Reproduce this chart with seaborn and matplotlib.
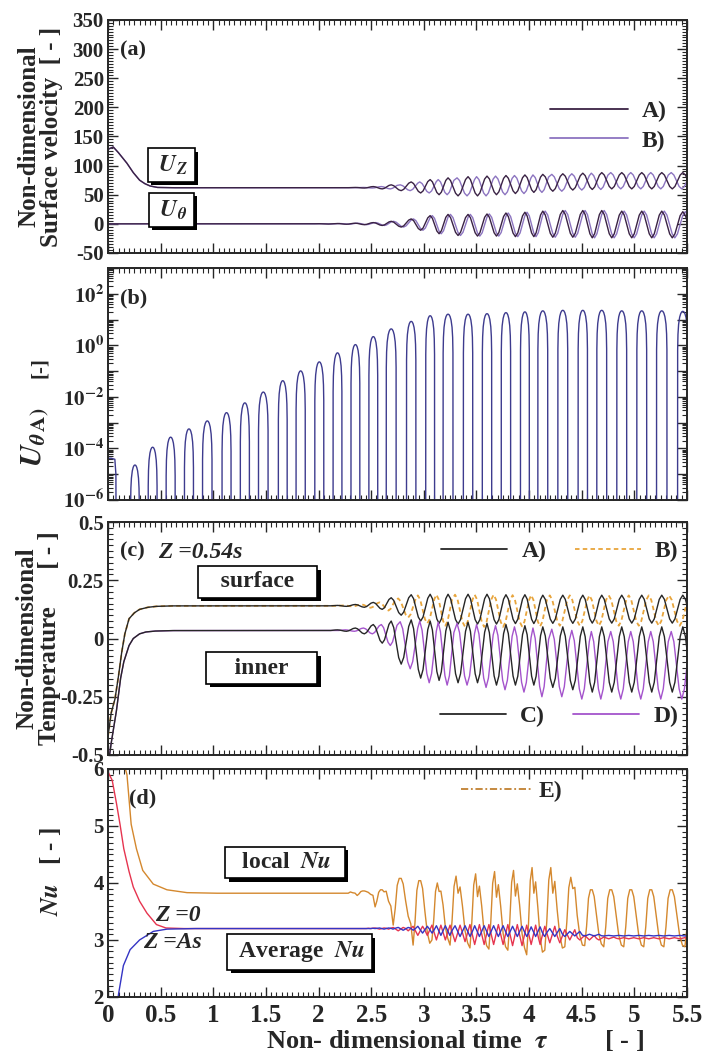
import numpy as np
import seaborn as sns
import matplotlib
matplotlib.use("Agg")
import matplotlib.pyplot as plt
import matplotlib.ticker as mticker
import matplotlib.patheffects as pe
from matplotlib.lines import Line2D

# ---------------- values ----------------
# time of each positive peak of U_theta A) (one per oscillation cycle, panel b)
cycle_tau = [0.256, 0.424, 0.595, 0.769, 0.943, 1.126, 1.300, 1.475, 1.660, 1.830,
             2.007, 2.180, 2.350, 2.520, 2.690, 2.880, 3.060, 3.230, 3.420, 3.600,
             3.780, 3.960, 4.130, 4.320, 4.510, 4.690, 4.880, 5.070, 5.260, 5.460]

# (b) log10 of each lobe top of U_theta A)
uth_peak_log = [-4.64, -3.95, -3.56, -3.24, -2.93, -2.61, -2.23, -1.81, -1.37, -0.99,
                -0.64, -0.29, 0.03, 0.34, 0.64, 0.93, 1.15, 1.21, 1.21, 1.23,
                1.27, 1.30, 1.34, 1.36, 1.36, 1.36, 1.34, 1.34, 1.34, 1.32]
uth_head_tau = [0.0, 0.03, 0.065, 0.075, 0.08]
uth_head_log = [-4.38, -4.38, -4.42, -5.0, -12.0]
# shape of one lobe on the log axis: offset from top (cycles), drop (decades)
lobe_dph = [-0.25, -0.245, -0.23, -0.2, -0.15, -0.1, -0.05, 0.0,
            0.05, 0.1, 0.15, 0.2, 0.23, 0.245, 0.25]
lobe_drop = [-12, -1.5, -0.9, -0.51, -0.23, -0.09, -0.02, 0.0,
             -0.02, -0.09, -0.23, -0.51, -0.9, -1.5, -12]

# one oscillation (phase from the top, 1 = top, 0 = bottom)
wave_ph = [0.0, 0.125, 0.25, 0.375, 0.5, 0.625, 0.75, 0.875]
wave_u = [1.0, 0.85, 0.5, 0.15, 0.0, 0.15, 0.5, 0.85]
# average Nu ripples twice per cycle
ripple_u = [1.0, 0.5, 0.0, 0.5, 1.0, 0.5, 0.0, 0.5]
# local Nu: phase from the trough, double top with a notch
loc_ph = [0.0, 0.1, 0.2, 0.3, 0.4, 0.5, 0.62, 0.75, 0.88]
loc_u = [0.0, 0.35, 0.85, 1.0, 1.0, 0.88, 0.55, 0.2, 0.03]
loc_notch = [0, 0, 0, 0, 1.0, 0.15, 0, 0, 0]

# (a) surface velocity
uth_lo = [0.0] * 10 + [-0.3, -0.6, -1.4, -2.8, -5.5, -11, -17, -20, -21, -21,
                       -22, -22, -23, -23, -24, -24, -24, -24, -24, -24]
uth_head_t = [0.0, 0.25]
uth_head_v = [0.0, 0.0]
uz_head_t = [0.0, 0.05, 0.1, 0.18, 0.24, 0.3, 0.35, 0.4, 0.47, 0.6]
uz_head_v = [128, 132, 122, 104, 88, 75, 69, 65, 62.5, 62]
uz_hi = [62] * 12 + [62.5, 64, 67, 72, 76, 79, 81, 82, 83, 84, 85, 86, 87, 88, 88, 88, 88, 88]
uz_lo = [62] * 12 + [61.5, 60, 57, 53, 50, 48, 48, 50, 52, 54, 56, 58, 59, 60, 60, 60, 60, 60]

# (c) temperature, Z = 0.54s
surf_head_t = [0.0, 0.03, 0.066, 0.1, 0.13, 0.16, 0.2, 0.25, 0.3, 0.38, 0.46, 0.6]
surf_head_v = [-0.42, -0.32, -0.26, -0.16, -0.06, 0.02, 0.085, 0.11, 0.125, 0.134, 0.138, 0.14]
surfA_hi = [0.14] * 11 + [0.142, 0.146, 0.155, 0.175, 0.188, 0.19, 0.19, 0.19, 0.19, 0.188,
                          0.188, 0.186, 0.186, 0.186, 0.186, 0.186, 0.186, 0.186, 0.186]
surfA_lo = [0.14] * 11 + [0.138, 0.134, 0.125, 0.10, 0.075, 0.065, 0.062, 0.062, 0.062, 0.064,
                          0.064, 0.065, 0.065, 0.066, 0.066, 0.066, 0.066, 0.066, 0.066]
surfB_hi = [0.14] * 11 + [0.142, 0.146, 0.155, 0.172, 0.185, 0.188, 0.188, 0.188, 0.188, 0.186,
                          0.186, 0.185, 0.185, 0.185, 0.185, 0.185, 0.185, 0.185, 0.185]
surfB_lo = [0.14] * 11 + [0.138, 0.132, 0.12, 0.09, 0.065, 0.055, 0.05, 0.05, 0.05, 0.052,
                          0.052, 0.055, 0.055, 0.055, 0.055, 0.055, 0.055, 0.055, 0.055]
inner_head_t = [0.0, 0.03, 0.08, 0.12, 0.15, 0.2, 0.24, 0.3, 0.36, 0.45, 0.6]
inner_head_v = [-0.55, -0.45, -0.31, -0.17, -0.1, -0.03, 0.0, 0.02, 0.028, 0.032, 0.034]
innerC_hi = [0.034] * 11 + [0.037, 0.045, 0.06, 0.075, 0.08, 0.075, 0.07, 0.07, 0.065, 0.06,
                            0.055, 0.05, 0.05, 0.05, 0.05, 0.05, 0.05, 0.05, 0.05]
innerC_lo = [0.034] * 11 + [0.031, 0.02, -0.02, -0.11, -0.17, -0.18, -0.19, -0.19, -0.2, -0.2,
                            -0.2, -0.21, -0.22, -0.23, -0.23, -0.23, -0.23, -0.23, -0.23]
innerD_hi = [0.034] * 11 + [0.037, 0.045, 0.06, 0.072, 0.075, 0.07, 0.065, 0.06, 0.055, 0.05,
                            0.045, 0.04, 0.035, 0.03, 0.03, 0.03, 0.03, 0.03, 0.03]
innerD_lo = [0.034] * 11 + [0.031, 0.02, -0.03, -0.13, -0.19, -0.2, -0.2, -0.21, -0.22, -0.23,
                            -0.25, -0.25, -0.26, -0.26, -0.26, -0.26, -0.26, -0.26, -0.26]

# (d) Nusselt number
nuE_head_t = [0.0, 0.1, 0.15, 0.18, 0.22, 0.27, 0.33, 0.43, 0.56, 0.75, 1.0]
nuE_head_v = [6.4, 6.3, 6.1, 5.9, 5.03, 4.6, 4.22, 3.98, 3.88, 3.83, 3.82]
nuE_hi = [3.82] * 12 + [3.86, 3.88, 4.08, 4.04, 4.0, 4.12, 4.16, 4.2, 4.22, 4.27, 4.27, 4.1,
                        3.88, 3.88, 3.88, 3.88, 3.88, 3.88]
nuE_lo = [3.82] * 12 + [3.78, 3.58, 3.26, 2.91, 3.0, 2.91, 2.86, 2.84, 2.82, 2.74, 2.82, 2.88,
                        2.9, 2.88, 2.88, 2.88, 2.88, 2.88]
nuE_dip = [0.0] * 16 + [0.15, 0.3, 0.4, 0.45, 0.45, 0.45, 0.45, 0.2, 0.0, 0.0, 0.0, 0.0, 0.0, 0.0]
nu0_head_t = [0.0, 0.04, 0.08, 0.114, 0.15, 0.2, 0.24, 0.3, 0.37, 0.46, 0.55, 0.7]
nu0_head_v = [5.95, 5.8, 5.4, 5.03, 4.6, 4.2, 3.93, 3.68, 3.47, 3.27, 3.21, 3.2]
nu0_hi = [3.2] * 13 + [3.21, 3.22, 3.24, 3.26, 3.26, 3.27, 3.27, 3.27, 3.26, 3.24, 3.18, 3.08,
                       3.05, 3.04, 3.04, 3.04, 3.04]
nu0_lo = [3.2] * 13 + [3.19, 3.16, 3.08, 3.0, 2.97, 2.92, 2.92, 2.9, 2.92, 2.95, 3.0, 3.0,
                       3.02, 3.02, 3.02, 3.02, 3.02]
nuAs_head_t = [0.0, 0.09, 0.1, 0.146, 0.21, 0.3, 0.43, 0.56, 0.8]
nuAs_head_v = [1.0, 1.9, 2.05, 2.55, 2.83, 3.0, 3.15, 3.19, 3.2]
nuAs_hi = [3.2] * 13 + [3.21, 3.22, 3.24, 3.25, 3.25, 3.25, 3.25, 3.24, 3.23, 3.2, 3.15, 3.1,
                        3.08, 3.08, 3.08, 3.08, 3.08]
nuAs_lo = [3.2] * 13 + [3.19, 3.17, 3.12, 3.08, 3.06, 3.06, 3.06, 3.06, 3.06, 3.06, 3.07, 3.07,
                        3.07, 3.07, 3.07, 3.07, 3.07]

x_ticks = [0, 0.5, 1, 1.5, 2, 2.5, 3, 3.5, 4, 4.5, 5, 5.5]


def cycles(t_head, v_head, hi, lo, shift, ph, u, dip=None, notch=None):
    """Chain the read transient with the read cycle tops/bottoms."""
    t_out, v_out = list(t_head), list(v_head)
    n = len(cycle_tau)
    for k in range(n):
        per = cycle_tau[min(k + 1, n - 1)] - cycle_tau[min(k, n - 2)]
        for j in range(len(ph)):
            t = cycle_tau[k] + (shift + ph[j]) * per
            if t <= t_out[-1]:
                continue
            top = hi[k] if ph[j] <= 0.5 else hi[min(k + 1, n - 1)]
            v = lo[k] + (top - lo[k]) * u[j]
            if dip is not None:
                v -= dip[k] * notch[j]
            t_out.append(t)
            v_out.append(v)
    return np.array(t_out), np.array(v_out)


def lobes(t_head, log_head, peaks):
    t_out = list(t_head)
    v_out = [10.0 ** v for v in log_head]
    n = len(cycle_tau)
    for k in range(n):
        per = cycle_tau[min(k + 1, n - 1)] - cycle_tau[min(k, n - 2)]
        for dph, drop in zip(lobe_dph, lobe_drop):
            t_out.append(cycle_tau[k] + dph * per)
            v_out.append(10.0 ** (peaks[k] + drop))
    return np.array(t_out), np.array(v_out)


def line(ax, t, v, color, lw=1.0, **kw):
    sns.lineplot(x=t, y=v, ax=ax, color=color, linewidth=lw, sort=False,
                 estimator=None, legend=False, **kw)


def boxed(ax, x, y, s, size=17):
    t = ax.text(x, y, s, ha="center", va="center", fontsize=size, fontweight="bold", zorder=6,
                bbox=dict(boxstyle="square,pad=0.22", fc="white", ec="black", lw=1.2))
    t.get_bbox_patch().set_path_effects(
        [pe.SimplePatchShadow(offset=(2.5, -2.5), shadow_rgbFace="black", alpha=1.0), pe.Normal()])


def style_axis(ax, show_x=False):
    ax.set_xlim(0, 5.5)
    ax.set_xticks(x_ticks)
    ax.xaxis.set_minor_locator(mticker.MultipleLocator(0.05))
    ax.tick_params(which="both", direction="in", top=True, right=True)
    ax.tick_params(which="major", length=7, width=1.0, labelsize=15, pad=3)
    ax.tick_params(which="minor", length=3.5, width=0.8)
    ax.tick_params(axis="x", labelsize=18, labelbottom=show_x, pad=5)
    ax.xaxis.set_major_formatter(mticker.FuncFormatter(lambda v, p: f"{v:g}"))
    for s in ax.spines.values():
        s.set_linewidth(1.4)
    ax.set_xlabel("")
    ax.set_ylabel("")


sns.set_theme(style="ticks")
plt.rcParams["font.family"] = ["Liberation Serif", "DejaVu Serif"]
plt.rcParams["font.weight"] = "bold"
plt.rcParams["mathtext.fontset"] = "stix"
plt.rcParams["axes.unicode_minus"] = False

fig = plt.figure(figsize=(7.05, 10.58), dpi=100)
L, W = 0.1532, 0.8213
ax_a = fig.add_axes([L, 0.7609, W, 0.2202])
ax_b = fig.add_axes([L, 0.5274, W, 0.2193])
ax_c = fig.add_axes([L, 0.2864, W, 0.2202])
ax_d = fig.add_axes([L, 0.0577, W, 0.2155])

col_A, col_B = "#3a2244", "#8c74c0"

# ---- (a) ----
uth_hi = [10.0 ** v for v in uth_peak_log]
for shift, col in [(0.12, col_B), (0.0, col_A)]:
    t, v = cycles(uz_head_t, uz_head_v, uz_hi, uz_lo, 0.45 if col == col_B else 0.0,
                  wave_ph, wave_u)
    line(ax_a, t, v, col)
    t, v = cycles(uth_head_t, uth_head_v, uth_hi, uth_lo, shift, wave_ph, wave_u)
    line(ax_a, t, v, col)
style_axis(ax_a)
ax_a.set_ylim(-50, 350)
ax_a.set_yticks(np.arange(-50, 351, 50))
ax_a.yaxis.set_minor_locator(mticker.MultipleLocator(5))
ax_a.text(0.11, 298, "(a)", fontsize=16, va="center")
boxed(ax_a, 0.60, 101, r" $\mathbfit{U}_{\mathbfit{Z}}$ ")
boxed(ax_a, 0.60, 24, r" $\mathbfit{U}_{\mathbfit{\theta}}$ ")
ax_a.legend([Line2D([], [], color=col_A, lw=1.3), Line2D([], [], color=col_B, lw=1.3)],
            ["A)", "B)"], loc="upper right", bbox_to_anchor=(0.965, 0.655), frameon=False,
            fontsize=17, handlelength=3.3, handletextpad=0.6, labelspacing=0.35,
            borderpad=0, borderaxespad=0)
ax_a.text(-0.117, 0.5, "Non-dimensional\nSurface velocity  [ - ]", rotation=90,
          transform=ax_a.transAxes, ha="center", va="center", fontsize=18,
          linespacing=0.95, multialignment="center")

# ---- (b) ----
t, v = lobes(uth_head_tau, uth_head_log, uth_peak_log)
line(ax_b, t, v, "#3d3b8e")
style_axis(ax_b)
ax_b.set_yscale("log")
ax_b.set_ylim(1e-6, 1e3)
ax_b.yaxis.set_major_locator(mticker.LogLocator(base=10, numticks=20))
ax_b.yaxis.set_minor_locator(mticker.LogLocator(base=10, subs=np.arange(2, 10), numticks=20))
ax_b.yaxis.set_minor_formatter(mticker.NullFormatter())
ax_b.yaxis.set_major_formatter(mticker.FuncFormatter(
    lambda v, p: r"$\mathbf{10^{%d}}$" % round(np.log10(v)) if round(np.log10(v)) % 2 == 0 else ""))
ax_b.text(0.11, 10 ** 1.8, "(b)", fontsize=16, va="center")
ax_b.text(-0.125, 0.27, r"$\mathbfit{U}_{\mathbfit{\theta}\,\mathbf{A)}}$", rotation=90,
          transform=ax_b.transAxes, ha="center", va="center", fontsize=22)
ax_b.text(-0.118, 0.57, "[-]", rotation=90, transform=ax_b.transAxes,
          ha="center", va="center", fontsize=15)

# ---- (c) ----
col_sB, col_D, col_k = "#e8a53c", "#a454cc", "#262626"
t, v = cycles(surf_head_t, surf_head_v, surfB_hi, surfB_lo, 0.35, wave_ph, wave_u)
line(ax_c, t, v, col_sB, lw=1.3, linestyle=(0, (2.5, 1.8)))
t, v = cycles(surf_head_t, surf_head_v, surfA_hi, surfA_lo, 0.0, wave_ph, wave_u)
line(ax_c, t, v, col_k)
t, v = cycles(inner_head_t, inner_head_v, innerD_hi, innerD_lo, 0.45, wave_ph, wave_u)
line(ax_c, t, v, col_D)
t, v = cycles(inner_head_t, inner_head_v, innerC_hi, innerC_lo, 0.0, wave_ph, wave_u)
line(ax_c, t, v, col_k)
style_axis(ax_c)
ax_c.set_ylim(-0.5, 0.5)
ax_c.set_yticks([-0.5, -0.25, 0, 0.25, 0.5])
ax_c.yaxis.set_major_formatter(mticker.FuncFormatter(lambda v, p: f"{v:g}"))
ax_c.yaxis.set_minor_locator(mticker.MultipleLocator(0.025))
ax_c.text(0.11, 0.375, "(c)", fontsize=16, va="center")
ax_c.text(0.48, 0.37, "Z =0.54s", fontsize=17, fontstyle="italic", va="center")
boxed(ax_c, 1.42, 0.243, "   surface   ")
boxed(ax_c, 1.46, -0.127, "    inner    ")
leg1 = ax_c.legend([Line2D([], [], color=col_k, lw=1.3),
                    Line2D([], [], color=col_sB, lw=1.3, linestyle=(0, (2.5, 1.8)))],
                   ["A)", "B)"], loc="center right", bbox_to_anchor=(0.985, 0.875), ncol=2,
                   frameon=False, fontsize=17, handlelength=2.8, handletextpad=0.6,
                   columnspacing=1.2, borderpad=0, borderaxespad=0)
ax_c.add_artist(leg1)
ax_c.legend([Line2D([], [], color=col_k, lw=1.3), Line2D([], [], color=col_D, lw=1.3)],
            ["C)", "D)"], loc="center right", bbox_to_anchor=(0.985, 0.165), ncol=2,
            frameon=False, fontsize=17, handlelength=2.8, handletextpad=0.6,
            columnspacing=1.2, borderpad=0, borderaxespad=0)
ax_c.text(-0.12, 0.5, "Non-dimensional\nTemperature      [ - ]", rotation=90,
          transform=ax_c.transAxes, ha="center", va="center", fontsize=18,
          linespacing=0.95, multialignment="center")

# ---- (d) ----
col_E, col_0, col_As = "#d4882e", "#e6344f", "#3434c4"
t, v = cycles(nuE_head_t, nuE_head_v, nuE_hi, nuE_lo, 0.1, loc_ph, loc_u, nuE_dip, loc_notch)
line(ax_d, t, v, col_E)
t, v = cycles(nu0_head_t, nu0_head_v, nu0_hi, nu0_lo, 0.1, wave_ph, ripple_u)
line(ax_d, t, v, col_0)
t, v = cycles(nuAs_head_t, nuAs_head_v, nuAs_hi, nuAs_lo, 0.35, wave_ph, ripple_u)
line(ax_d, t, v, col_As)
style_axis(ax_d, show_x=True)
ax_d.set_ylim(2, 6)
ax_d.set_yticks([2, 3, 4, 5, 6])
ax_d.yaxis.set_minor_locator(mticker.MultipleLocator(0.1))
ax_d.text(0.2, 5.49, "(d)", fontsize=16, va="center")
boxed(ax_d, 1.68, 4.36, r"  local  $\mathbfit{Nu}$  ")
boxed(ax_d, 1.82, 2.79, r" Average  $\mathbfit{Nu}$ ")
ax_d.text(0.66, 3.43, "Z =0", fontsize=17, fontstyle="italic", ha="center", va="center")
ax_d.text(0.61, 2.95, "Z =As", fontsize=17, fontstyle="italic", ha="center", va="center")
ax_d.legend([Line2D([], [], color="#c08030", lw=1.3, linestyle=(0, (4, 1.5, 1, 1.5)))],
            ["E)"], loc="center right", bbox_to_anchor=(0.785, 0.9), frameon=False,
            fontsize=17, handlelength=3.0, handletextpad=0.3, borderpad=0, borderaxespad=0)
ax_d.text(-0.1, 0.55, r"$\mathbfit{Nu}$   [ - ]", rotation=90, transform=ax_d.transAxes,
          ha="center", va="center", fontsize=18)
ax_d.text(0.6, -0.19, r"Non- dimensional time  $\tau$         [ - ]", transform=ax_d.transAxes,
          ha="center", va="center", fontsize=19)

fig.savefig("out.png", dpi=100)
